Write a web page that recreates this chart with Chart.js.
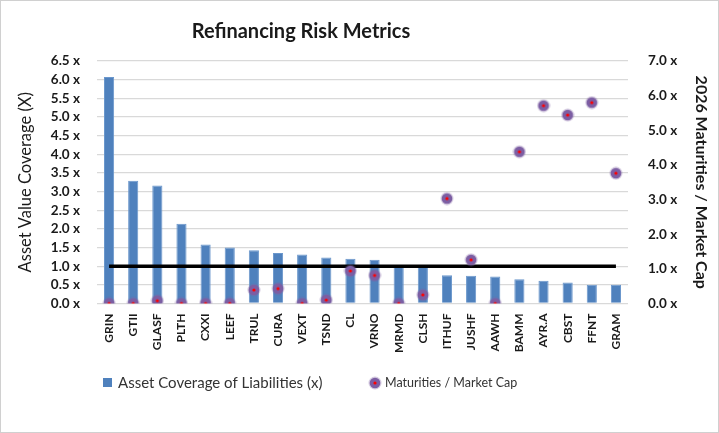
<!DOCTYPE html>
<html>
<head>
<meta charset="utf-8">
<script src="https://cdn.jsdelivr.net/npm/chart.js@4/dist/chart.umd.min.js"></script>
<style>
  html, body { margin: 0; padding: 0; background: #fff; }
  #wrap { width: 719px; height: 433px; }
</style>
</head>
<body>
<div id="wrap"><canvas id="myChart" width="719" height="433"></canvas></div>
<script>
(() => {
  'use strict'

  // Data
  const tickers = ['GRIN', 'GTII', 'GLASF', 'PLTH', 'CXXI', 'LEEF', 'TRUL', 'CURA', 'VEXT', 'TSND', 'CL',
    'VRNO', 'MRMD', 'CLSH', 'ITHUF', 'JUSHF', 'AAWH', 'BAMM', 'AYR.A', 'CBST', 'FFNT', 'GRAM']
  const assetCoverage = [6.07, 3.29, 3.16, 2.14, 1.58, 1.50, 1.43, 1.35, 1.31, 1.23, 1.20,
    1.17, 1.00, 0.99, 0.76, 0.74, 0.72, 0.65, 0.61, 0.56, 0.50, 0.50]
  const maturitiesToCap = [0, 0, 0.08, 0, 0, 0, 0.39, 0.43, 0, 0.10, 0.94,
    0.81, 0, 0.25, 3.03, 1.26, 0, 4.38, 5.71, 5.44, 5.80, 3.76]
  const thresholdLine = tickers.map(() => 1.0)

  const FONT = 'Lato, "Open Sans", sans-serif'
  const TXT = '#1a1a1a'

  // purple dot with a red centre
  const marker = document.createElement('canvas')
  marker.width = 14
  marker.height = 14
  const m = marker.getContext('2d')
  m.fillStyle = 'rgba(128,100,162,0.35)'
  m.beginPath(); m.arc(7, 7, 6.5, 0, Math.PI * 2); m.fill()
  m.fillStyle = '#7c5ea3'
  m.beginPath(); m.arc(7, 7, 5.3, 0, Math.PI * 2); m.fill()
  m.fillStyle = '#ff0000'
  m.beginPath(); m.arc(7, 7, 1.6, 0, Math.PI * 2); m.fill()

  const frame = {
    id: 'frame',
    beforeDraw(chart) {
      const c = chart.ctx
      c.save()
      c.fillStyle = '#fff'
      c.fillRect(0, 0, chart.width, chart.height)
      c.strokeStyle = '#d0d0d0'
      c.lineWidth = 1
      c.strokeRect(0.5, 0.5, chart.width - 1, chart.height - 1)
      c.restore()
    },
    afterDraw(chart) {
      const c = chart.ctx
      c.save()
      // title
      c.fillStyle = TXT
      c.font = 'bold 20px ' + FONT
      c.textAlign = 'center'
      c.textBaseline = 'middle'
      c.fillText('Refinancing Risk Metrics', 301, 32)
      // legend
      c.textAlign = 'left'
      c.fillStyle = '#4f81bd'
      c.fillRect(103, 378, 9, 9)
      c.fillStyle = '#333'
      c.font = '15px ' + FONT
      c.fillText(chart.data.datasets[0].label, 118, 383)
      c.drawImage(marker, 368, 376)
      c.font = '12.5px ' + FONT
      c.fillText(chart.data.datasets[2].label, 385, 383)
      c.restore()
    }
  }

  new Chart(document.getElementById('myChart'), {
    type: 'bar',
    data: {
      labels: tickers,
      datasets: [{
        label: 'Asset Coverage of Liabilities (x)',
        data: assetCoverage,
        backgroundColor: '#4f81bd',
        borderColor: '#6b97cc',
        borderWidth: 1,
        barPercentage: 0.42,
        categoryPercentage: 1,
        yAxisID: 'y',
        order: 3
      }, {
        type: 'line',
        label: 'threshold',
        data: thresholdLine,
        borderColor: '#000',
        borderWidth: 3.5,
        pointRadius: 0,
        yAxisID: 'y',
        order: 2
      }, {
        type: 'line',
        label: 'Maturities / Market Cap',
        data: maturitiesToCap,
        showLine: false,
        pointStyle: marker,
        yAxisID: 'y1',
        order: 1
      }]
    },
    options: {
      responsive: false,
      animation: false,
      layout: { padding: { left: 12, right: 4, top: 61, bottom: 78 } },
      plugins: {
        legend: { display: false },
        tooltip: { enabled: false },
        title: { display: false }
      },
      scales: {
        x: {
          grid: { display: false },
          border: { display: false },
          ticks: {
            color: TXT,
            font: { family: FONT, size: 12, weight: 'bold' },
            minRotation: 90,
            maxRotation: 90,
            autoSkip: false,
            padding: 2
          }
        },
        y: {
          position: 'left',
          min: 0,
          max: 6.5,
          afterFit: (s) => { s.width = 85 },
          grid: { color: '#d9d9d9', lineWidth: 1.3, drawTicks: false },
          border: { display: false },
          ticks: {
            stepSize: 0.5,
            autoSkip: false,
            padding: 17,
            color: TXT,
            font: { family: FONT, size: 13.5, weight: 'bold', lineHeight: 1 },
            callback: (v) => v.toFixed(1) + ' x'
          },
          title: {
            display: true,
            text: 'Asset Value Coverage (X)',
            color: TXT,
            font: { family: FONT, size: 16.5 },
            padding: { top: 4, bottom: 0 }
          }
        },
        y1: {
          position: 'right',
          min: 0,
          max: 7,
          afterFit: (s) => { s.width = 87 },
          grid: { display: false, drawTicks: false },
          border: { display: false },
          ticks: {
            stepSize: 1,
            autoSkip: false,
            padding: 20,
            color: TXT,
            font: { family: FONT, size: 13.5, weight: 'bold', lineHeight: 1 },
            callback: (v) => v.toFixed(1) + ' x'
          },
          title: {
            display: true,
            text: '2026 Maturities / Market Cap',
            color: TXT,
            font: { family: FONT, size: 16, weight: 'bold' },
            padding: { top: 4, bottom: 0 }
          }
        }
      }
    },
    plugins: [frame]
  })
})()
</script>
</body>
</html>
